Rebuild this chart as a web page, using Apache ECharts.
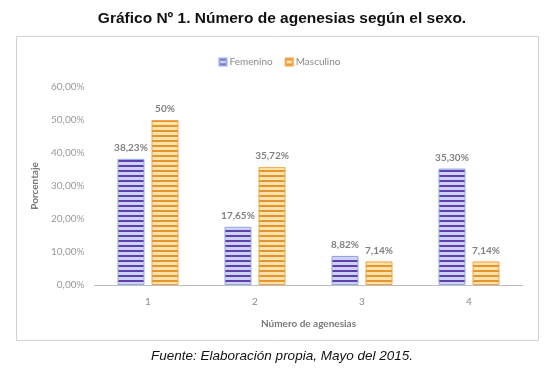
<!DOCTYPE html>
<html>
<head>
<meta charset="utf-8">
<script src="https://cdn.jsdelivr.net/npm/echarts@6/dist/echarts.min.js"></script>
<style>html,body{margin:0;padding:0;background:#fff;}#c{width:559px;height:381px;}</style>
</head>
<body>
<div id="c"></div>
<script>
const categories = ['1', '2', '3', '4'];
const femenino = [38.23, 17.65, 8.82, 35.30];
const masculino = [50, 35.72, 7.14, 7.14];
const femeninoLabels = ['38,23%', '17,65%', '8,82%', '35,30%'];
const masculinoLabels = ['50%', '35,72%', '7,14%', '7,14%'];
const yTicks = [0, 10, 20, 30, 40, 50, 60];

function stripe(dark, light) {
  const cv = document.createElement('canvas');
  cv.width = 4; cv.height = 5;
  const ctx = cv.getContext('2d');
  ctx.fillStyle = light; ctx.fillRect(0, 0, 4, 5);
  ctx.fillStyle = dark; ctx.fillRect(0, 0, 4, 2);
  return { image: cv, repeat: 'repeat' };
}

const chart = echarts.init(document.getElementById('c'));
const fontFam = 'Lato, "Open Sans", sans-serif';
const lbl = (arr) => ({
  show: true, position: 'top', distance: 6,
  formatter: (p) => arr[p.dataIndex],
  color: '#808080', fontSize: 10, fontWeight: 'bold', fontFamily: fontFam
});

chart.setOption({
  animation: false,
  backgroundColor: '#fff',
  title: [{
    text: 'Gráfico Nº 1. Número de agenesias según el sexo.',
    left: 277, top: 6, textAlign: 'center',
    textStyle: { fontFamily: '"Liberation Sans", Arial, sans-serif', fontSize: 15.5, fontWeight: 'bold', color: '#111' }
  }, {
    text: 'Fuente: Elaboración propia, Mayo del 2015.',
    left: 277, top: 344, textAlign: 'center',
    textStyle: { fontFamily: '"Liberation Sans", Arial, sans-serif', fontSize: 13.5, fontStyle: 'italic', fontWeight: 'normal', color: '#111' }
  }],
  graphic: [{
    type: 'rect', left: 16, top: 36, z: -1,
    shape: { width: 522, height: 304 },
    style: { fill: '#fff', stroke: '#cfd3cc', lineWidth: 1 }
  }],
  legend: {
    top: 52, left: 'center',
    itemWidth: 7, itemHeight: 7, itemGap: 12,
    icon: 'rect',
    textStyle: { color: '#8a8a8a', fontSize: 10, fontFamily: fontFam, padding: [0, 0, 0, -2] },
    data: ['Femenino', 'Masculino']
  },
  grid: { left: 94.5, right: 36.5, top: 87, bottom: 96 },
  xAxis: {
    type: 'category', data: categories,
    name: 'Número de agenesias', nameLocation: 'middle', nameGap: 34,
    nameTextStyle: { color: '#7a7a7a', fontSize: 10, fontWeight: 'bold', fontFamily: fontFam },
    axisLine: { lineStyle: { color: '#bdbdbd', width: 1 } },
    axisTick: { show: false },
    axisLabel: { color: '#8a8a8a', fontSize: 10, margin: 12, fontFamily: fontFam }
  },
  yAxis: {
    type: 'value', min: 0, max: 60, interval: 10,
    name: 'Porcentaje', nameLocation: 'middle', nameGap: 52, nameRotate: 90,
    nameTextStyle: { color: '#7a7a7a', fontSize: 10, fontWeight: 'bold', fontFamily: fontFam },
    axisLine: { show: false }, axisTick: { show: false },
    splitLine: { show: false },
    axisLabel: {
      color: '#9a9a9a', fontSize: 10, margin: 10, fontFamily: fontFam,
      formatter: (v) => yTicks.includes(v) ? v.toFixed(2).replace('.', ',') + '%' : ''
    }
  },
  series: [{
    name: 'Femenino', type: 'bar', data: femenino,
    barWidth: 27, barGap: '26%',
    itemStyle: { color: stripe('#6040ad', '#cdd2f2'), borderColor: '#93abe2', borderWidth: 1 },
    label: lbl(femeninoLabels)
  }, {
    name: 'Masculino', type: 'bar', data: masculino,
    barWidth: 27, barGap: '26%',
    itemStyle: { color: stripe('#e3962e', '#fae3ad'), borderColor: '#f2a24a', borderWidth: 1 },
    label: lbl(masculinoLabels)
  }]
});
</script>
</body>
</html>
